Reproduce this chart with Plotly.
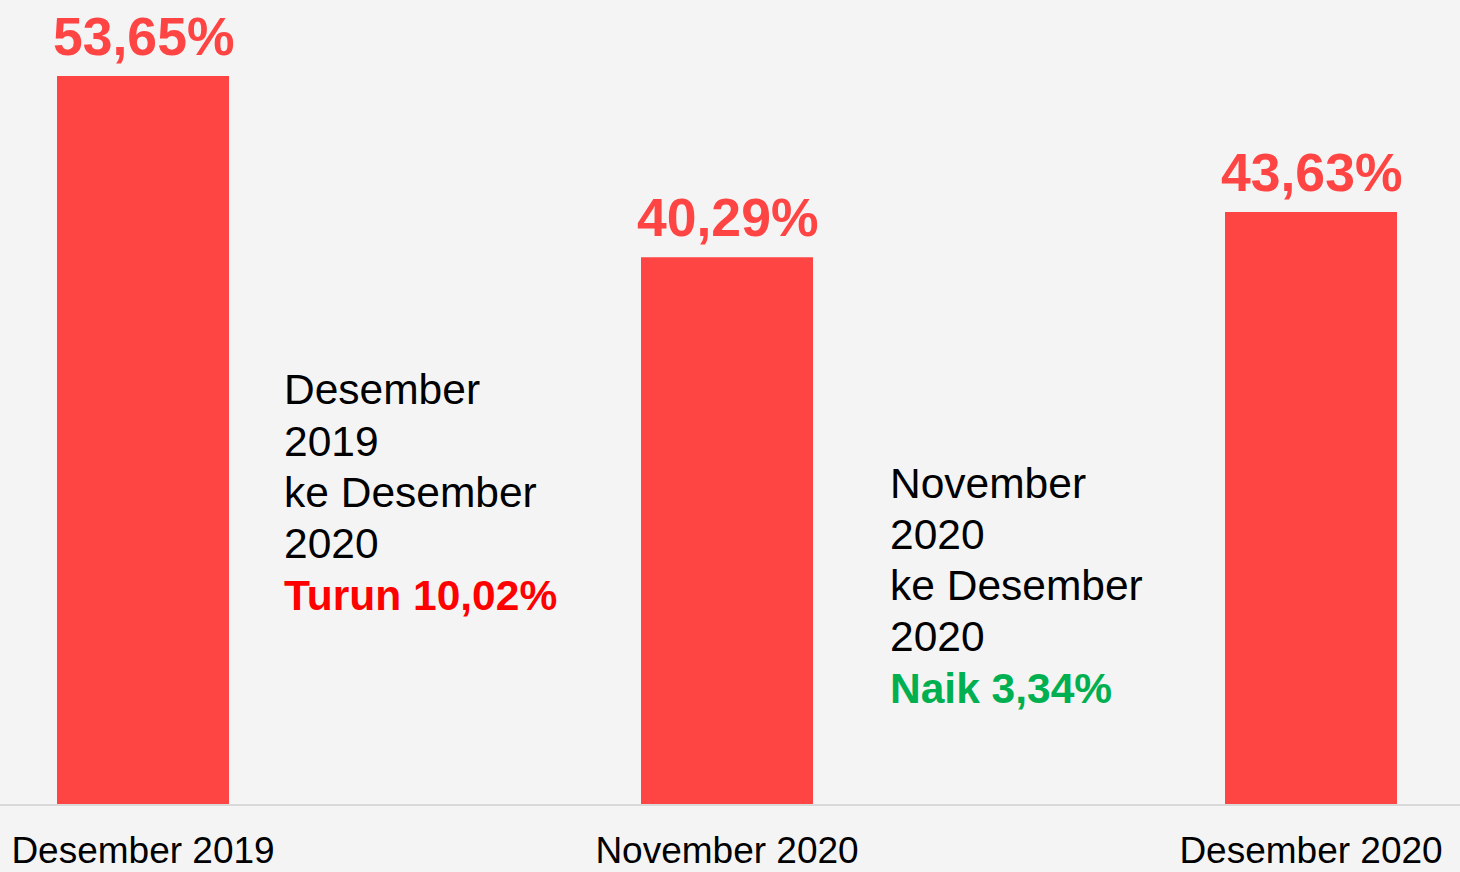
import plotly.graph_objects as go

categories = ["Desember 2019", "November 2020", "Desember 2020"]
values = [53.65, 40.29, 43.63]
value_labels = ["53,65%", "40,29%", "43,63%"]

note1_lines = ["Desember", "2019", "ke Desember", "2020"]
note1_result = "Turun 10,02%"
note2_lines = ["November", "2020", "ke Desember", "2020"]
note2_result = "Naik 3,34%"

FONT = "Liberation Sans, Arial, sans-serif"
BAR = "#ff4444"
BG = "#f4f4f4"

fig = go.Figure(go.Bar(
    x=[0, 1, 2], y=values, width=0.2945,
    marker=dict(color=BAR, line=dict(width=0)),
    hoverinfo="skip",
))

H = 804.0
def ypaper(px):
    return 1 - px / H

annotations = []
for i, (v, lab) in enumerate(zip(values, value_labels)):
    annotations.append(dict(
        x=i, xref="x", y=v, yref="y", xanchor="center", yanchor="bottom",
        yshift=8, text="<b>%s</b>" % lab, showarrow=False,
        font=dict(family=FONT, size=53.5, color=BAR),
    ))

def block(xdata, top_px, lines, result, rcolor):
    step = 51.3
    for i, t in enumerate(lines + [result]):
        bold = i == len(lines)
        annotations.append(dict(
            x=xdata, xref="x", xanchor="left",
            y=ypaper(top_px + i * step), yref="paper", yanchor="middle",
            text=("<b>%s</b>" % t) if bold else t, showarrow=False,
            font=dict(family=FONT, size=42.5, color=rcolor if bold else "#000000"),
            align="left",
        ))

block((282 - 143) / 584.0, 390, note1_lines, note1_result, "#ff0000")
block((888 - 143) / 584.0, 483, note2_lines, note2_result, "#00b050")

fig.update_layout(
    width=1460, height=872,
    margin=dict(l=0, r=0, t=0, b=68),
    paper_bgcolor=BG, plot_bgcolor=BG,
    showlegend=False,
    annotations=annotations,
    xaxis=dict(range=[-143 / 584.0, (1460 - 143) / 584.0], tickmode="array",
               tickvals=[0, 1, 2], ticktext=categories,
               tickfont=dict(family=FONT, size=37, color="#000000"),
               ticklabelstandoff=13,
               showline=True, linecolor="#d9d9d9", linewidth=2,
               showgrid=False, zeroline=False, ticks=""),
    yaxis=dict(range=[0, H / 13.57], visible=False, showgrid=False, zeroline=False),
)

fig.write_html("out.html", config={"displayModeBar": False},
               post_script="document.body.style.margin='0';document.body.style.background='#f4f4f4';")
